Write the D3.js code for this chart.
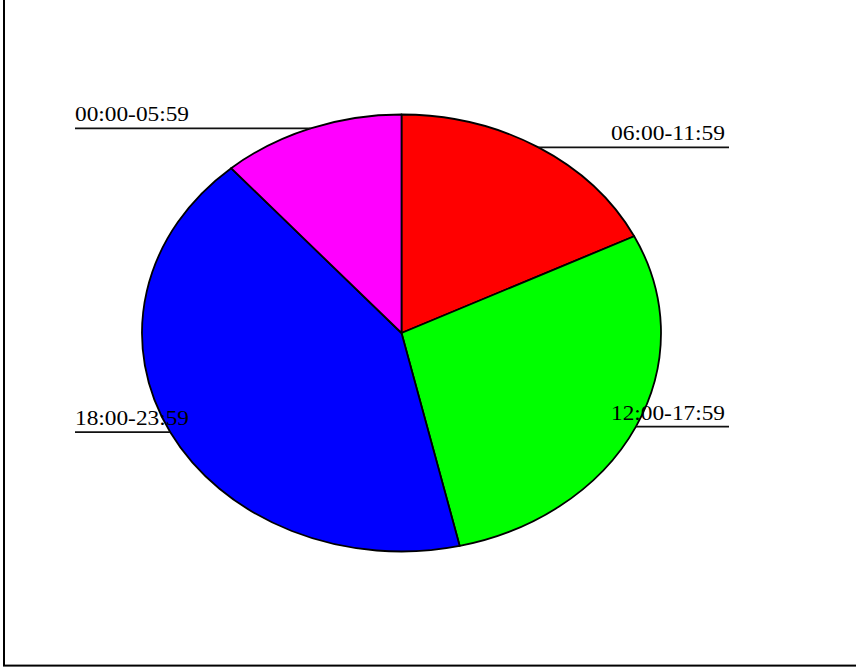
<!DOCTYPE html>
<html>
<head>
<meta charset="utf-8">
<script src="https://cdn.jsdelivr.net/npm/d3@7/dist/d3.min.js"></script>
<style>
  html, body { margin: 0; padding: 0; background: #fff; }
  svg { display: block; }
</style>
</head>
<body>
<svg id="chart" width="856" height="667"></svg>
<script>
// Share of events by time-of-day window (percent), clockwise from 12 o'clock
const categories = ["06:00-11:59", "12:00-17:59", "18:00-23:59", "00:00-05:59"];
const values = [17.7, 28.7, 42.2, 11.4];
const colors = ["#ff0000", "#00ff00", "#0000ff", "#ff00ff"];

const W = 856, H = 667;
const cx = 401.5, cy = 333, rx = 259.5, ry = 218.5;
const leftX = 75, rightX = 729;

const svg = d3.select("#chart");

// Frame (left and bottom edges visible)
svg.append("rect")
  .attr("x", 4).attr("y", -20)
  .attr("width", W + 20).attr("height", 665.6 + 20)
  .attr("fill", "none").attr("stroke", "#000").attr("stroke-width", 2);

const pie = d3.pie().sort(null).value(d => d.v);
const arcs = pie(categories.map((c, i) => ({ c, v: values[i], col: colors[i] })));

// Elliptical pie: circular arcs squashed vertically
const arc = d3.arc().innerRadius(0).outerRadius(rx);
const g = svg.append("g")
  .attr("transform", `translate(${cx},${cy}) scale(1,${ry / rx})`);

g.selectAll("path.slice")
  .data(arcs)
  .join("path")
  .attr("class", "slice")
  .attr("d", arc)
  .attr("fill", d => d.data.col)
  .attr("stroke", "#000")
  .attr("stroke-width", 1.8)
  .attr("stroke-linejoin", "round")
  .attr("vector-effect", "non-scaling-stroke");

// Leader lines and labels at each slice's mid angle
const labels = svg.append("g");
arcs.forEach(d => {
  const a = (d.startAngle + d.endAngle) / 2;
  const px = cx + rx * Math.sin(a);
  const py = cy - ry * Math.cos(a);
  const right = Math.sin(a) >= 0;
  const ex = right ? rightX : leftX;
  labels.append("line")
    .attr("x1", px).attr("y1", py)
    .attr("x2", ex).attr("y2", py)
    .attr("stroke", "#111").attr("stroke-width", 1.7);
  labels.append("text")
    .attr("x", right ? ex - 4 : ex)
    .attr("y", py - 7)
    .attr("text-anchor", right ? "end" : "start")
    .attr("font-family", "'Liberation Serif', 'Times New Roman', serif")
    .attr("font-size", 21)
    .attr("textLength", 114)
    .attr("lengthAdjust", "spacingAndGlyphs")
    .attr("fill", "#000")
    .text(d.data.c);
});
</script>
</body>
</html>
